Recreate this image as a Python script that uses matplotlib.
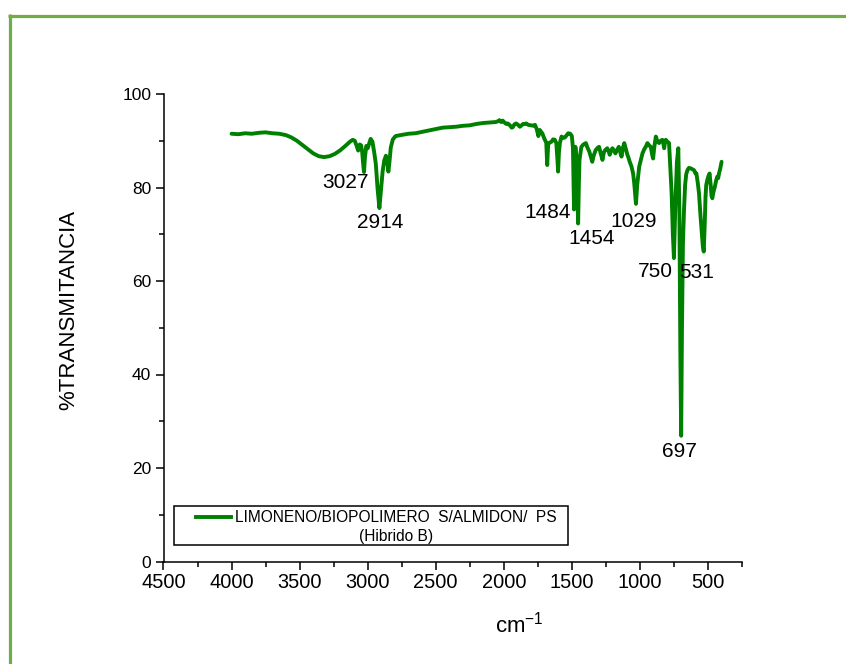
import matplotlib
matplotlib.use("Agg")
import matplotlib.pyplot as plt
from matplotlib import font_manager
from matplotlib.lines import Line2D
from matplotlib.patches import Rectangle
from matplotlib.ticker import MultipleLocator

# ---- spectrum data (wavenumber cm-1, % transmittance) ----
wavenumber = [
    4000, 3950, 3900, 3850, 3800, 3750, 3700, 3650, 3600, 3560, 3520, 3480,
    3440, 3400, 3360, 3320, 3280, 3240, 3200, 3160, 3130, 3110, 3095, 3082,
    3070, 3058, 3048, 3040, 3033, 3027, 3020, 3010, 3000, 2990, 2978, 2965,
    2952, 2940, 2928, 2914, 2902, 2890, 2878, 2866, 2856, 2848, 2840, 2830,
    2815, 2795, 2760, 2700, 2650, 2600, 2550, 2500, 2450, 2400, 2350, 2300,
    2250, 2200, 2150, 2100, 2060, 2040, 2032, 2020, 2008, 1995, 1982, 1971,
    1955, 1942, 1934, 1922, 1910, 1895, 1882, 1873, 1858, 1845, 1836, 1820,
    1800, 1781, 1771, 1758, 1746, 1735, 1724, 1717, 1703, 1688, 1681, 1674,
    1663, 1649, 1638, 1625, 1614, 1606, 1601, 1595, 1588, 1576, 1563, 1551,
    1538, 1527, 1512, 1500, 1492, 1484, 1479, 1474, 1468, 1460, 1454, 1449,
    1444, 1436, 1430, 1415, 1397, 1385, 1372, 1360, 1350, 1340, 1325, 1310,
    1300, 1290, 1275, 1265, 1255, 1240, 1230, 1222, 1212, 1202, 1192, 1180,
    1168, 1155, 1145, 1135, 1125, 1115, 1105, 1092, 1082, 1075, 1062, 1050,
    1042, 1036, 1029, 1020, 1005, 990, 981, 968, 957, 945, 932, 920,
    910, 903, 895, 883, 870, 859, 847, 835, 828, 822, 816, 810,
    798, 786, 778, 767, 758, 750, 740, 728, 718, 710, 703, 697,
    691, 684, 676, 668, 660, 651, 640, 627, 615, 602, 592, 585,
    575, 566, 555, 545, 538, 531, 524, 518, 513, 505, 496, 488,
    480, 474, 468, 460, 449, 440, 432, 425, 419, 410, 400,
]
transmittance = [
    91.5, 91.4, 91.6, 91.5, 91.7, 91.8, 91.6, 91.5, 91.2, 90.7, 90.0, 89.1,
    88.2, 87.3, 86.7, 86.5, 86.7, 87.2, 88.0, 89.0, 89.8, 90.2, 90.0, 89.0,
    87.9, 89.2, 89.0, 87.5, 85.0, 83.3, 86.5, 88.9, 88.4, 89.3, 90.4, 89.8,
    87.5, 85.0, 80.0, 75.6, 79.5, 83.5, 85.8, 86.8, 85.5, 83.4, 85.5, 88.6,
    90.3, 91.0, 91.2, 91.5, 91.6, 91.9, 92.2, 92.5, 92.8, 92.9, 93.0, 93.2,
    93.3, 93.6, 93.8, 93.9, 94.0, 94.2, 94.4, 94.0, 94.3, 93.9, 93.6, 93.7,
    93.3, 92.8, 92.9, 93.5, 93.7, 93.4, 93.0, 93.2, 93.6, 93.6, 93.7, 93.4,
    93.3, 93.2, 93.4, 92.5, 91.0, 92.3, 91.8, 91.6, 90.5, 89.6, 84.8, 89.3,
    89.6, 89.8, 90.3, 90.2, 89.5, 86.0, 83.4, 87.5, 89.5, 90.9, 90.6, 90.7,
    91.2, 91.6, 91.5, 91.0, 88.5, 75.3, 86.0, 88.7, 87.0, 80.0, 72.3, 80.0,
    85.9, 87.5, 88.7, 89.2, 89.5, 88.5, 87.7, 86.5, 85.5, 86.8, 88.0, 88.5,
    88.7, 87.5, 85.9, 87.5, 88.0, 88.4, 87.8, 87.0, 87.8, 88.4, 88.0, 87.3,
    88.0, 88.7, 87.6, 86.6, 88.5, 89.5, 88.4, 87.0, 86.2, 85.5, 84.5, 83.0,
    81.0, 79.0, 76.5, 80.5, 84.5, 86.3, 87.3, 88.2, 88.7, 89.5, 89.0, 88.7,
    87.0, 86.2, 88.5, 90.9, 89.8, 89.5, 90.0, 90.2, 89.5, 88.4, 89.6, 90.2,
    89.8, 89.5, 85.0, 78.8, 70.0, 64.9, 76.0, 85.5, 88.4, 75.0, 45.0, 26.9,
    50.0, 68.0, 75.2, 80.5, 82.8, 83.7, 84.2, 84.1, 83.9, 83.7, 83.0, 83.0,
    81.0, 78.8, 74.0, 70.0, 67.5, 66.3, 72.0, 78.0, 80.5, 81.6, 82.5, 83.0,
    80.5, 78.2, 77.7, 79.0, 80.2, 81.5, 82.3, 82.0, 83.0, 84.0, 85.5,
]

# ---- band labels ----
band_labels = ["3027", "2914", "1484", "1454", "1029", "750", "531", "697"]
# text anchor (wavenumber, % T) for each band label
band_label_x = [3161, 2910, 1679, 1354, 1049, 887, 586, 712]
band_label_y = [79.8, 71.3, 73.4, 67.9, 71.6, 60.9, 60.6, 22.4]

x_ticks = [4500, 4000, 3500, 3000, 2500, 2000, 1500, 1000, 500]
y_ticks = [0, 20, 40, 60, 80, 100]

series_name = "LIMONENO/BIOPOLIMERO  S/ALMIDON/  PS"
series_note = "(Hibrido B)"

# ---- fonts ----
installed = {f.name for f in font_manager.fontManager.ttflist}
SANS = "Liberation Sans"
NARROW = "Liberation Sans Narrow" if "Liberation Sans Narrow" in installed else SANS
plt.rcParams["font.family"] = [SANS, "DejaVu Sans"]
plt.rcParams["mathtext.fontset"] = "custom"
plt.rcParams["mathtext.rm"] = SANS
plt.rcParams["mathtext.it"] = SANS

LINE_GREEN = "#008000"
FRAME_GREEN = "#70AD47"

W, H = 846, 664
fig = plt.figure(figsize=(W / 100, H / 100), dpi=100)
fig.patch.set_facecolor("white")

# page frame (top and left rules)
fig.add_artist(Line2D([8 / W, 1.0], [1 - 15.5 / H, 1 - 15.5 / H],
                      transform=fig.transFigure, color=FRAME_GREEN, lw=2.3,
                      solid_capstyle="butt"))
fig.add_artist(Line2D([9.5 / W, 9.5 / W], [1 - 14 / H, 0.0],
                      transform=fig.transFigure, color=FRAME_GREEN, lw=2.3,
                      solid_capstyle="butt"))

ax_l, ax_r, ax_b, ax_t = 163.5, 742.0, 561.5, 94.0
ax = fig.add_axes([ax_l / W, 1 - ax_b / H, (ax_r - ax_l) / W, (ax_b - ax_t) / H])
ax.set_facecolor("white")

ax.plot(wavenumber, transmittance, color=LINE_GREEN, lw=2.8,
        solid_joinstyle="round", solid_capstyle="round")

ax.set_xlim(4500, 250)
ax.set_ylim(0, 100)
ax.set_xticks(x_ticks)
ax.set_yticks(y_ticks)
ax.xaxis.set_minor_locator(MultipleLocator(250))
ax.yaxis.set_minor_locator(MultipleLocator(10))

for side in ("top", "right"):
    ax.spines[side].set_visible(False)
for side in ("left", "bottom"):
    ax.spines[side].set_linewidth(1.1)
    ax.spines[side].set_color("black")

ax.tick_params(which="major", direction="out", length=6, width=1.1, color="black")
ax.tick_params(which="minor", direction="out", length=3.6, width=1.1, color="black")
ax.tick_params(axis="x", which="major", pad=2.5)
ax.tick_params(axis="y", which="major", pad=2.8)
for lab in ax.get_xticklabels():
    lab.set_fontfamily([NARROW, "DejaVu Sans"])
    lab.set_fontsize(14.4)
for lab in ax.get_yticklabels():
    lab.set_fontfamily([SANS, "DejaVu Sans"])
    lab.set_fontsize(12.5)

# axis titles
ax.set_ylabel("%TRANSMITANCIA", fontsize=16)
ax.yaxis.label.set_verticalalignment("center")
ax.yaxis.set_label_coords((69 - ax_l) / (ax_r - ax_l), (ax_b - 310) / (ax_b - ax_t))
ax.set_xlabel(r"cm$^{\mathrm{-1}}$", fontsize=16)
ax.xaxis.label.set_verticalalignment("baseline")
ax.xaxis.set_label_coords((519 - ax_l) / (ax_r - ax_l), (ax_b - 632) / (ax_b - ax_t))

# band labels
for txt, bx, by in zip(band_labels, band_label_x, band_label_y):
    ax.text(bx, by, txt, fontsize=15, ha="center", va="baseline", color="black")

# legend box
def ax_x(px):
    return (px - ax_l) / (ax_r - ax_l)

def ax_y(py):
    return (ax_b - py) / (ax_b - ax_t)

ax.add_patch(Rectangle((ax_x(174), ax_y(545)), ax_x(568) - ax_x(174),
                       ax_y(506) - ax_y(545), transform=ax.transAxes,
                       fill=False, edgecolor="black", lw=1.1, zorder=5))
ax.add_line(Line2D([ax_x(196), ax_x(230.7)], [ax_y(516.7), ax_y(516.7)],
                   transform=ax.transAxes, color=LINE_GREEN, lw=2.8, zorder=5))
ax.text(ax_x(235), ax_y(522.3), series_name, transform=ax.transAxes,
        fontsize=11.2, ha="left", va="baseline", zorder=6)
ax.text(ax_x(396), ax_y(541), series_note, transform=ax.transAxes,
        fontsize=11.2, ha="center", va="baseline", zorder=6)

fig.savefig("out.png", dpi=100, facecolor="white")
